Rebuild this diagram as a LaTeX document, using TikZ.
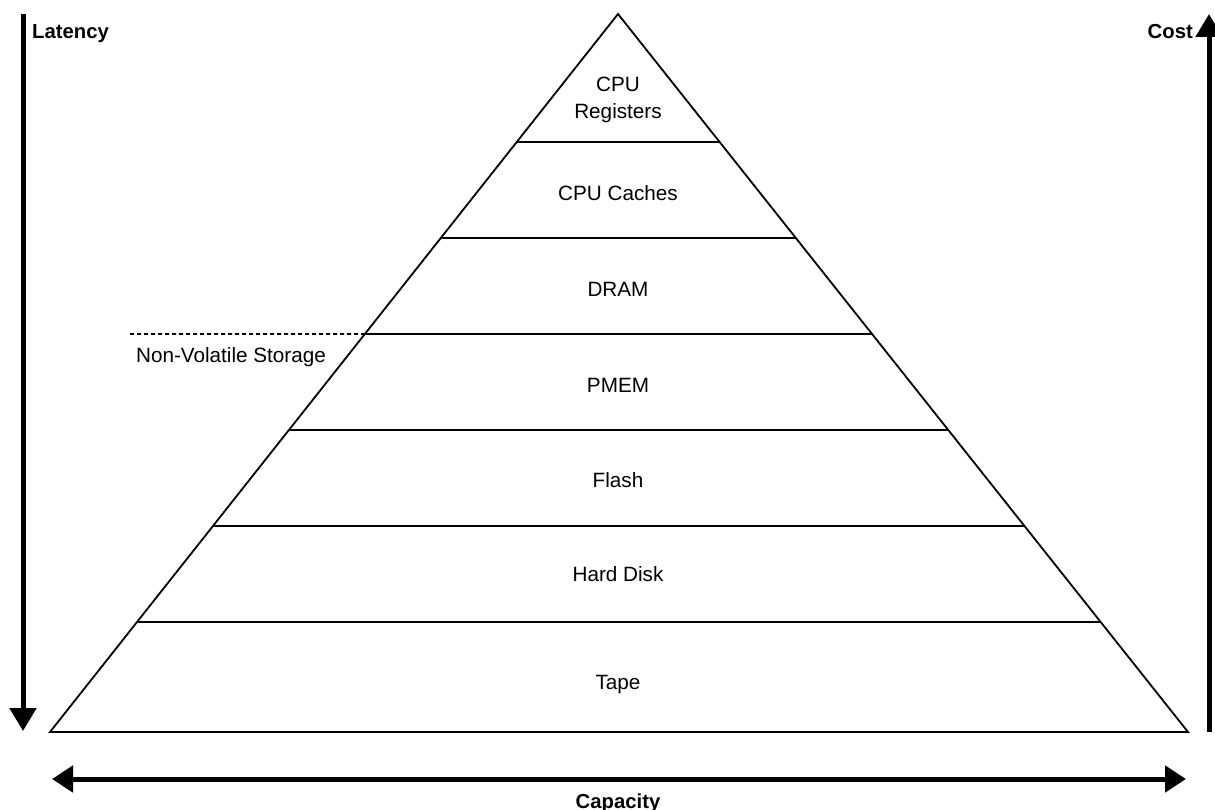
\documentclass[tikz,border=0pt]{standalone}
\usepackage{fontspec}
\setmainfont{Liberation Sans}
\usetikzlibrary{arrows.meta,calc}
\begin{document}
\begin{tikzpicture}[x=1pt,y=-1pt,
  pyr/.style={line width=1.8pt, line join=miter},
  level/.style={line width=1.8pt},
  bigarrow/.style={line width=5pt, -{Triangle[width=26pt,length=23pt]}},
  dblarrow/.style={line width=5pt, {Triangle[width=26pt,length=21pt]}-{Triangle[width=26pt,length=21pt]}},
  lbl/.style={font=\fontsize{20.7}{24}\selectfont, anchor=base, inner sep=0pt},
  axislbl/.style={font=\fontsize{20.3}{24}\selectfont\bfseries, anchor=base, inner sep=0pt},
  ]
\useasboundingbox (0,0) rectangle (1215,810);
% pyramid corners
\coordinate (A) at (618,14);
\coordinate (BL) at (50,732);
\coordinate (BR) at (1188,732);
\draw[pyr] (A) -- (BL) -- (BR) -- cycle;
% level lines
\foreach \t [count=\i] in {0.17827,0.31198,0.44568,0.57939,0.71309,0.84680}{
  \coordinate (L\i) at ($(A)!\t!(BL)$);
  \coordinate (R\i) at ($(A)!\t!(BR)$);
  \draw[level] (L\i) -- (R\i);
}
% labels
\node[lbl] (reg1) at (618,92) {CPU};
\node[lbl] (reg2) at (618,119) {Registers};
\node[lbl] (cache) at (618,201) {CPU Caches};
\node[lbl] (dram) at (618,297) {DRAM};
\node[lbl] (pmem) at (618,392) {PMEM};
\node[lbl] (flash) at (618,487) {Flash};
\node[lbl] (hdd) at (618,581) {Hard Disk};
\node[lbl] (tape) at (618,689) {Tape};
% non-volatile marker
\coordinate (nvs) at (130,334);
\draw[line width=1.8pt, dash pattern=on 4pt off 3pt] (nvs) -- (L3);
\node[lbl] (nvlbl) at (231,362) {Non-Volatile Storage};
% axes
\coordinate (latTop) at (23,14);
\coordinate (latBot) at (23,731);
\draw[bigarrow] (latTop) -- (latBot);
\node[axislbl, anchor=base west] (lat) at (32,39) {Latency};
\coordinate (costBot) at (1209,732);
\coordinate (costTop) at (1209,14);
\draw[bigarrow] (costBot) -- (costTop);
\node[axislbl, anchor=base east] (cost) at (1193,39) {Cost};
\coordinate (capL) at (52,779);
\coordinate (capR) at (1186,779);
\draw[dblarrow] (capL) -- (capR);
\node[axislbl] (cap) at (618,808) {Capacity};
\end{tikzpicture}
\end{document}
